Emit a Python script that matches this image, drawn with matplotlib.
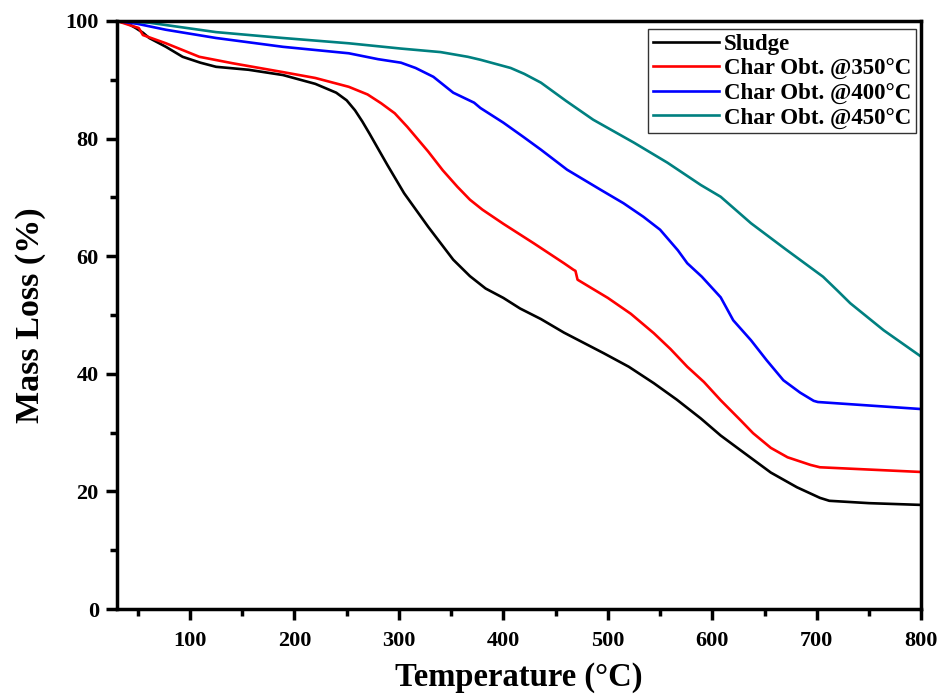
import matplotlib
matplotlib.use("Agg")
import matplotlib.pyplot as plt
from matplotlib.ticker import MultipleLocator

plt.rcParams['font.family'] = ['Liberation Serif', 'DejaVu Serif']
plt.rcParams['font.weight'] = 'bold'

# Data
sludge_T = [30, 40, 48, 55, 61, 77, 93, 110, 125, 156, 189, 220, 240, 250, 258, 265, 272, 280, 289,
            305, 328, 352, 368, 383, 400, 416, 436, 458, 496, 520, 544, 566, 589, 608, 627, 656,
            681, 703, 712, 750, 800]
sludge_m = [100, 99.6, 98.8, 98.0, 97.1, 95.6, 93.9, 92.9, 92.2, 91.7, 90.8, 89.3, 87.8, 86.5, 84.8,
            82.9, 80.8, 78.3, 75.5, 70.7, 65.0, 59.4, 56.6, 54.5, 52.9, 51.1, 49.3, 47.0, 43.5,
            41.2, 38.4, 35.6, 32.4, 29.5, 27.0, 23.2, 20.7, 18.9, 18.4, 18.0, 17.7]

c350_T = [30, 42, 51, 55, 77, 109, 141, 189, 220, 252, 270, 283, 296, 308, 328, 342, 356, 368, 380,
          400, 429, 458, 467, 469, 471, 485, 500, 522, 544, 560, 576, 592, 608, 627, 639, 656, 672,
          694, 703, 800]
c350_m = [100, 99.3, 98.8, 97.6, 96.2, 93.9, 92.8, 91.3, 90.3, 88.8, 87.5, 86.0, 84.3, 82.0, 77.8,
          74.6, 71.8, 69.6, 67.9, 65.5, 62.2, 58.8, 57.7, 57.5, 56.0, 54.5, 52.9, 50.2, 46.9, 44.2,
          41.2, 38.6, 35.5, 32.1, 29.9, 27.4, 25.8, 24.5, 24.1, 23.3]

c400_T = [30, 50, 77, 125, 189, 252, 280, 302, 316, 333, 352, 372, 378, 400, 419, 436, 461, 493,
          515, 534, 550, 567, 576, 590, 608, 620, 637, 652, 668, 684, 697, 701, 800]
c400_m = [100, 99.5, 98.5, 97.1, 95.6, 94.5, 93.5, 92.9, 92.0, 90.5, 87.8, 86.1, 85.2, 82.7, 80.3,
          78.1, 74.7, 71.3, 69.0, 66.7, 64.5, 61.0, 58.8, 56.5, 53.0, 49.1, 45.7, 42.3, 38.9, 36.8,
          35.4, 35.2, 34.0]

c450_T = [30, 61, 125, 189, 252, 302, 340, 366, 378, 407, 420, 436, 460, 486, 525, 557, 589, 608,
          637, 670, 706, 720, 732, 764, 800]
c450_m = [100, 99.7, 98.1, 97.1, 96.2, 95.3, 94.7, 93.9, 93.4, 92.0, 91.0, 89.5, 86.4, 83.2, 79.3,
          75.9, 72.1, 70.1, 65.6, 61.2, 56.5, 54.1, 52.0, 47.4, 42.9]

labels = ['Sludge', 'Char Obt. @350°C', 'Char Obt. @400°C', 'Char Obt. @450°C']
colors = ['#000000', '#ff0000', '#0000ff', '#008080']

fig = plt.figure(figsize=(9.42, 6.98), dpi=100)
ax = fig.add_axes([0.124, 0.1275, 0.854, 0.8425])

for T, m, lab, c in zip([sludge_T, c350_T, c400_T, c450_T],
                        [sludge_m, c350_m, c400_m, c450_m], labels, colors):
    ax.plot(T, m, color=c, lw=1.9, label=lab)

ax.set_xlim(30, 800)
ax.set_ylim(0, 100)
ax.xaxis.set_major_locator(MultipleLocator(100))
ax.xaxis.set_minor_locator(MultipleLocator(50))
ax.yaxis.set_major_locator(MultipleLocator(20))
ax.yaxis.set_minor_locator(MultipleLocator(10))

for s in ax.spines.values():
    s.set_linewidth(2.5)
ax.tick_params(which='major', direction='out', length=8, width=2.5, labelsize=16, pad=5)
ax.tick_params(axis='x', which='major', pad=8)
ax.tick_params(which='minor', direction='out', length=5, width=2.5)
for lbl in ax.get_xticklabels() + ax.get_yticklabels():
    lbl.set_fontweight('bold')

ax.set_xlabel('Temperature (°C)', fontsize=23.5, fontweight='bold', labelpad=8)
ax.set_ylabel('Mass Loss (%)', fontsize=24.5, fontweight='bold', labelpad=14)

leg = ax.legend(loc='upper right', bbox_to_anchor=(0.996, 0.99), fontsize=16.5, frameon=True,
                fancybox=False, edgecolor='black', handlelength=2.9, handletextpad=0.2,
                labelspacing=0.15, borderpad=0.2, borderaxespad=0.1)
leg.get_frame().set_linewidth(1.0)
for t in leg.get_texts():
    t.set_fontweight('bold')

fig.savefig('out.png', dpi=100)
